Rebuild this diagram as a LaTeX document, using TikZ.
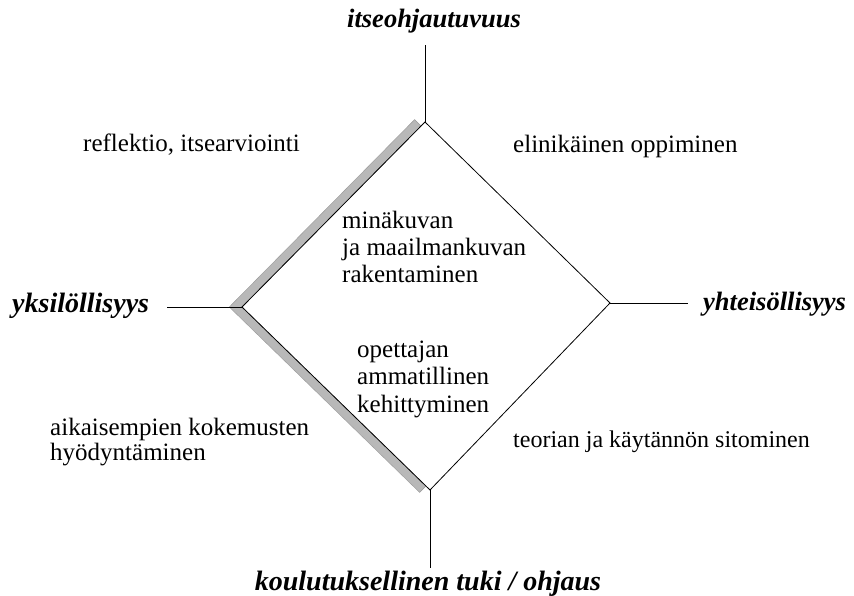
\documentclass[tikz,border=0pt]{standalone}
\usepackage{fontspec}
\setmainfont{Liberation Serif}
\usetikzlibrary{calc}
\begin{document}
\begin{tikzpicture}[x=1pt,y=-1pt,
  edge/.style={line width=0.8pt,black},
  band/.style={fill=black!28,draw=black!40,line width=0.4pt},
  axislabel/.style={inner sep=0pt,font=\fontsize{26.5}{30}\selectfont\bfseries\itshape},
  txt/.style={inner sep=0pt,align=left,font=\fontsize{25}{27}\selectfont}]
\useasboundingbox (0,0) rectangle (854,596);
% corners of the square
\coordinate (T) at (425,122);
\coordinate (R) at (610,303);
\coordinate (B) at (430,490);
\coordinate (L) at (242,307);
% free ends of the axes
\coordinate (Tend) at (425,45);
\coordinate (Rend) at (688,303);
\coordinate (Bend) at (430,568);
\coordinate (Lend) at (167,307);
% shaded strip along the two left sides
\fill[band] (421,126) -- (L) -- (426,486) -- (419.6,492.4) -- (229.3,307) -- (414.6,119.6) -- cycle;
% square and axes
\draw[edge,line join=miter] (T) -- (R) -- (B) -- (L) -- cycle;
\draw[edge] (T) -- (Tend);
\draw[edge] (R) -- (Rend);
\draw[edge] (B) -- (Bend);
\draw[edge] (L) -- (Lend);
% axis labels
\node[axislabel,anchor=base west] (top) at (347,28) {itseohjautuvuus};
\node[axislabel,anchor=base west,font=\fontsize{28}{30}\selectfont\bfseries\itshape] (left) at (12,312) {yksilöllisyys};
\node[axislabel,anchor=base west] (right) at (703,310) {yhteisöllisyys};
\node[axislabel,anchor=base,font=\fontsize{28}{30}\selectfont\bfseries\itshape] (bottom) at (428,590) {koulutuksellinen tuki / ohjaus};
% quadrant texts (base = last line)
\node[txt,anchor=base west] (q1) at (83,152) {reflektio, itsearviointi};
\node[txt,anchor=base west] (q2) at (513,153) {elinikäinen oppiminen};
\node[txt,anchor=base west,font=\fontsize{25}{25}\selectfont] (q3) at (50,460) {aikaisempien kokemusten\\hyödyntäminen};
\node[txt,anchor=base west,font=\fontsize{24}{27}\selectfont] (q4) at (513,447) {teorian ja käytännön sitominen};
% texts inside the square
\node[txt,anchor=base west] (c1) at (342,282) {minäkuvan\\ja maailmankuvan\\rakentaminen};
\node[txt,anchor=base west,font=\fontsize{25}{27.5}\selectfont] (c2) at (357,412) {opettajan\\ammatillinen\\kehittyminen};
\end{tikzpicture}
\end{document}
